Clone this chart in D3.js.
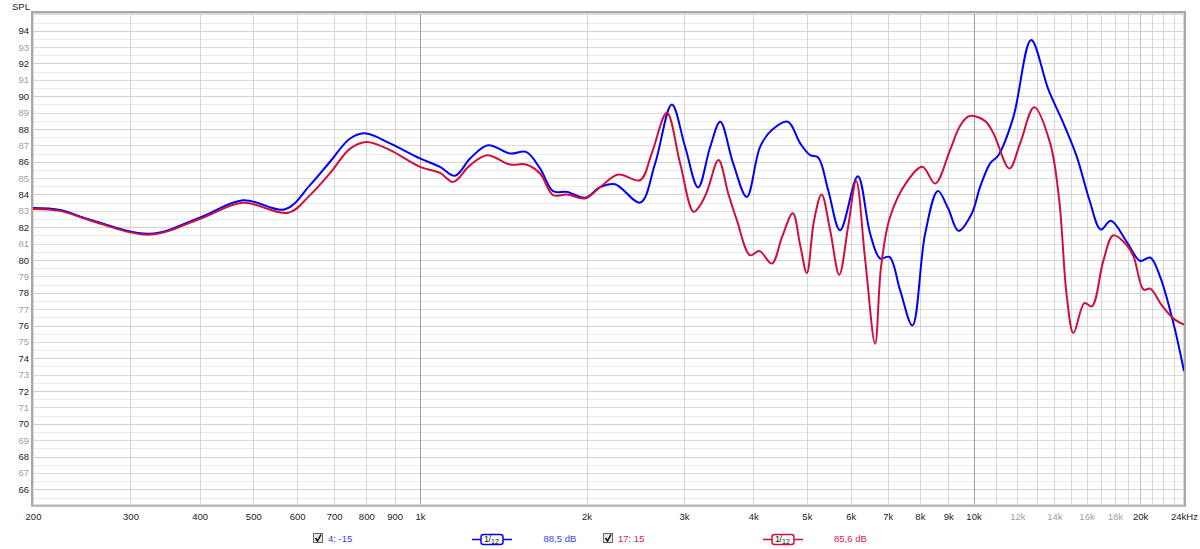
<!DOCTYPE html>
<html><head><meta charset="utf-8">
<script src="https://cdn.jsdelivr.net/npm/d3@7"></script>
<style>
html,body{margin:0;padding:0;background:#fff;}
svg{display:block;font-family:"Liberation Sans",Arial,sans-serif;}
</style></head>
<body>
<svg id="chart" width="1200" height="549"></svg>
<script>
// ---- data ----
const blueFreq = [200,224,253,325,401,479,571,633,688,748,799,883,1000,1087,1157,1232,1327,1455,1555,1648,1740,1844,1988,2116,2252,2500,2660,2851,3013,3181,3344,3487,3680,3894,4116,4322,4619,4863,5068,5240,5464,5741,6180,6504,6782,7048,7370,7756,8178,8622,9000,9394,9929,10278,10716,11092,11806,12706,13660,14536,15370,16198,16984,17706,18924,20000,20852,21740,22980,24000];
const blueSPL  = [83.17,83.05,82.47,81.6,82.6,83.65,83.1,84.57,86.0,87.42,87.73,87.12,86.2,85.69,85.14,86.2,87.01,86.5,86.6,85.59,84.2,84.16,83.8,84.45,84.63,83.51,85.9,89.5,86.91,84.43,86.9,88.44,85.9,83.85,86.91,87.93,88.44,87.12,86.4,86.26,84.26,81.82,85.12,81.62,80.09,80.19,78.15,76.0,81.62,84.22,83.14,81.78,82.84,84.46,85.9,86.4,88.74,93.43,90.38,88.34,86.3,83.65,81.86,82.39,81.1,79.94,80.15,78.96,76.11,73.22];

const redFreq = [200,224,253,325,401,479,578,633,688,748,801,883,1000,1087,1148,1232,1322,1455,1555,1648,1740,1844,1988,2116,2282,2498,2622,2793,2951,3120,3208,3302,3462,3605,3737,3949,4104,4322,4510,4716,4863,4999,5152,5316,5508,5721,5935,6138,6373,6641,6808,7068,7578,8086,8524,9072,9460,9834,10496,10866,11610,12138,12872,13756,14282,14744,15154,15864,16362,17166,17896,18924,19468,20290,20852,21886,22980,24000];
const redSPL  = [83.12,83.0,82.43,81.55,82.52,83.49,82.88,83.96,85.3,86.8,87.21,86.71,85.69,85.32,84.77,85.79,86.4,85.83,85.83,85.28,83.96,84.0,83.76,84.45,85.22,84.87,86.5,88.99,85.9,82.94,83.35,84.2,86.1,84.06,82.43,80.29,80.55,79.78,81.41,82.86,80.9,79.21,82.43,84.0,81.82,79.1,82.02,84.82,80.0,74.89,79.6,82.64,84.77,85.69,84.67,86.72,88.2,88.79,88.48,87.73,85.59,87.12,89.32,87.12,83.65,77.74,75.54,77.37,77.17,79.98,81.51,80.9,80.19,78.19,78.25,77.23,76.42,76.05];

const xTickValues = [200,300,400,500,600,700,800,900,1000,2000,3000,4000,5000,6000,7000,8000,9000,10000,12000,14000,16000,18000,20000,24000];
const xTickLabels = ["200","300","400","500","600","700","800","900","1k","2k","3k","4k","5k","6k","7k","8k","9k","10k","12k","14k","16k","18k","20k","24kHz"];
const xTickGray   = ["12k","14k","16k","18k"];
const yTickValues = d3.range(66, 95, 1);

const legendItems = [
  {label:"4: -15", level:"88,5 dB", color:"#0000ff", text:"#3a3aff"},
  {label:"17: 15", level:"85,6 dB", color:"#d0103a", text:"#e0204a"}
];

// ---- layout ----
const svg = d3.select("#chart");
const L = 33, R = 1184, T = 13, B = 505.7;
const x = d3.scaleLog().domain([200, 24000]).range([L, R]);
const y = d3.scaleLinear().domain([65, 95.08]).range([B, T]);

// grid: vertical lines
const vLines = [];
for (let f = 200; f < 1000; f += 100) vLines.push(f);
for (let f = 1000; f < 10000; f += 1000) vLines.push(f);
for (let f = 10000; f <= 24000; f += 1000) vLines.push(f);

const grid = svg.append("g");
d3.range(65.5, 95.08, 1).forEach(v => {
  grid.append("line").attr("x1", L).attr("x2", R).attr("y1", Math.round(y(v))+0.5).attr("y2", Math.round(y(v))+0.5)
    .attr("stroke", "#ebebeb").attr("stroke-width", 1);
});
d3.range(66, 95.08, 1).forEach(v => {
  grid.append("line").attr("x1", L).attr("x2", R).attr("y1", Math.round(y(v))+0.5).attr("y2", Math.round(y(v))+0.5)
    .attr("stroke", v % 2 === 0 ? "#d2d2d2" : "#dcdcdc").attr("stroke-width", 1);
});
vLines.forEach(f => {
  let c = "#d6d6d6";
  if (f === 1000 || f === 10000) c = "#a0a0a0";
  else if (f === 20000) c = "#c0c0c0";
  grid.append("line").attr("x1", Math.round(x(f))+0.5).attr("x2", Math.round(x(f))+0.5).attr("y1", T).attr("y2", B)
    .attr("stroke", c).attr("stroke-width", 1);
});

// frame
svg.append("rect").attr("x", L-1).attr("y", T-1).attr("width", R-L+2).attr("height", B-T+1)
  .attr("fill", "none").attr("stroke", "#a8a8a8").attr("stroke-width", 2);
svg.append("rect").attr("x", L+0.5).attr("y", T+0.5).attr("width", R-L-1).attr("height", B-T-1.5)
  .attr("fill", "none").attr("stroke", "#dadada").attr("stroke-width", 1);

// y axis labels
svg.append("text").attr("x", 12).attr("y", 9.5).text("SPL").attr("font-size", 9.5).attr("fill", "#222");
const yAxis = d3.axisLeft(y).tickValues(yTickValues).tickSize(0).tickPadding(4).tickFormat(d3.format("d"));
const gy = svg.append("g").attr("transform", `translate(${L},0)`).call(yAxis);
gy.select(".domain").remove();
gy.selectAll("text").attr("font-size", 9.5).attr("font-family", "Liberation Sans, Arial, sans-serif")
  .attr("fill", d => d % 2 === 0 ? "#222" : "#a0a0a0");

// x axis labels
const xAxis = d3.axisBottom(x).tickValues(xTickValues).tickSize(0).tickPadding(8)
  .tickFormat((d, i) => xTickLabels[i]);
const gx = svg.append("g").attr("transform", `translate(0,${B})`).call(xAxis);
gx.select(".domain").remove();
gx.selectAll("text").attr("font-size", 9.5).attr("font-family", "Liberation Sans, Arial, sans-serif")
  .attr("fill", (d, i) => xTickGray.includes(xTickLabels[i]) ? "#a0a0a0" : "#222");

// curves
const line = d3.line().x(d => x(d[0])).y(d => y(d[1])).curve(d3.curveCatmullRom.alpha(0.5));
svg.append("clipPath").attr("id", "clip").append("rect").attr("x", L).attr("y", T).attr("width", R-L).attr("height", B-T);
const curves = svg.append("g").attr("clip-path", "url(#clip)");
curves.append("path").datum(d3.zip(blueFreq, blueSPL)).attr("d", line)
  .attr("fill", "none").attr("stroke", legendItems[0].color).attr("stroke-width", 2);
curves.append("path").datum(d3.zip(redFreq, redSPL)).attr("d", line)
  .attr("fill", "none").attr("stroke", legendItems[1].color).attr("stroke-width", 2);

// legend
const legX = [313, 603];
const symX = [472, 763];
const lvlX = [543.5, 834];
legendItems.forEach((it, i) => {
  const g = svg.append("g");
  g.append("rect").attr("x", legX[i]+0.5).attr("y", 533.5).attr("width", 9).attr("height", 9)
    .attr("fill", "#e6e6e6").attr("stroke", "#666").attr("stroke-width", 1);
  g.append("path").attr("d", `M${legX[i]+2.5},${538} L${legX[i]+4.5},${541} L${legX[i]+8},${534.5}`)
    .attr("fill", "none").attr("stroke", "#111").attr("stroke-width", 1.5);
  g.append("text").attr("x", legX[i]+15).attr("y", 541.5).text(it.label)
    .attr("font-size", 9.5).attr("fill", it.text);
  const sx = symX[i];
  g.append("line").attr("x1", sx).attr("x2", sx+40).attr("y1", 539.5).attr("y2", 539.5)
    .attr("stroke", it.color).attr("stroke-width", 1.5);
  g.append("rect").attr("x", sx+9).attr("y", 534.5).attr("width", 22).attr("height", 10).attr("rx", 2.5)
    .attr("fill", "#fff").attr("stroke", it.color).attr("stroke-width", 1.5);
  const t = g.append("text").attr("x", sx+12).attr("y", 542).attr("font-size", 9).attr("fill", "#111");
  t.append("tspan").text("1");
  t.append("tspan").text("/").attr("dx", -0.5);
  t.append("tspan").text("12").attr("font-size", 7).attr("dy", 1.5);
  g.append("text").attr("x", lvlX[i]).attr("y", 541.5).text(it.level)
    .attr("font-size", 9.5).attr("fill", it.text);
});
</script>
</body></html>
